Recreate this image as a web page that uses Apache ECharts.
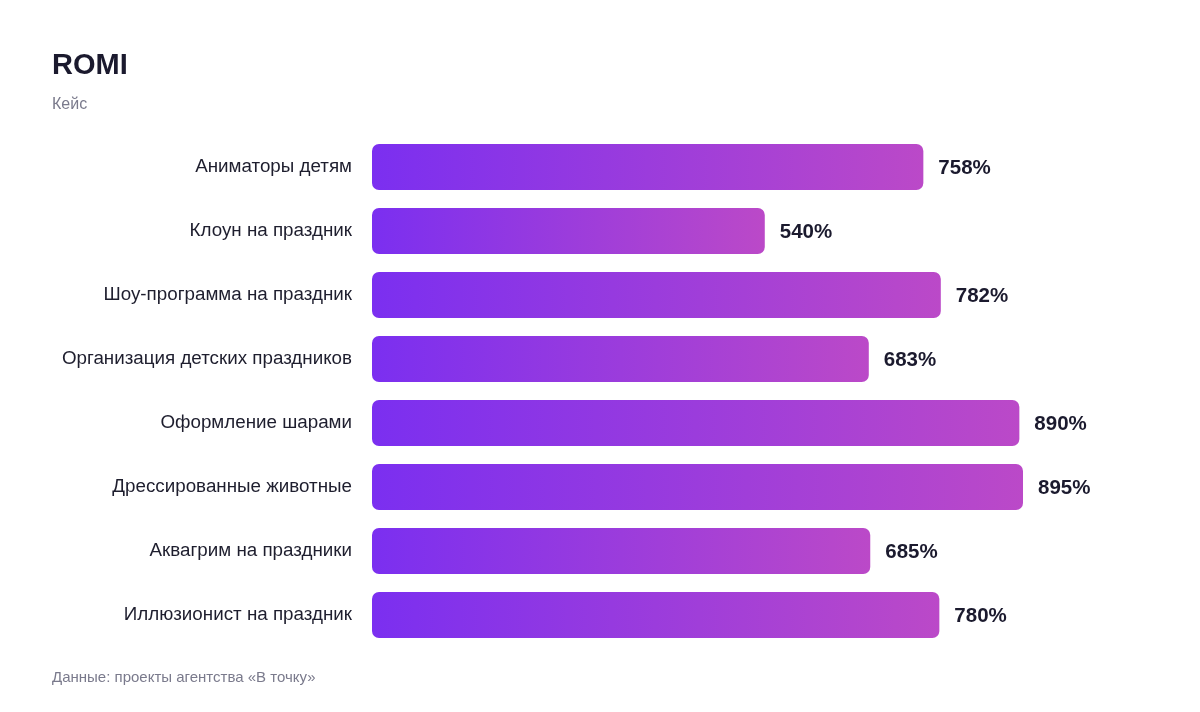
<!DOCTYPE html>
<html lang="ru">
<head>
    <meta charset="UTF-8">
    <title>ROMI</title>
    <style>
        html, body { margin: 0; padding: 0; background: #fff; }
        #chart { width: 1200px; height: 712px; }
    </style>
    <script src="https://cdn.jsdelivr.net/npm/echarts@6/dist/echarts.min.js"></script>
</head>
<body>
<div id="chart"></div>
<script>
// данные
var categories = [
    'Аниматоры детям',
    'Клоун на праздник',
    'Шоу-программа на праздник',
    'Организация детских праздников',
    'Оформление шарами',
    'Дрессированные животные',
    'Аквагрим на праздники',
    'Иллюзионист на праздник'
];
var romi = [758, 540, 782, 683, 890, 895, 685, 780];

var font = '"Liberation Sans", Arial, Helvetica, sans-serif';
var myChart = echarts.init(document.getElementById('chart'));

var option = {
    backgroundColor: '#ffffff',
    textStyle: { fontFamily: font },
    title: [
        {
            text: 'ROMI',
            left: 47, top: 46,
            textStyle: { fontSize: 29, fontWeight: 'bold', color: '#1b1a2e', fontFamily: font }
        },
        {
            text: 'Кейс',
            left: 47, top: 92,
            textStyle: { fontSize: 16, fontWeight: 'normal', color: '#7a7a8c', fontFamily: font }
        },
        {
            text: 'Данные: проекты агентства «В точку»',
            left: 47, top: 665,
            textStyle: { fontSize: 15, fontWeight: 'normal', color: '#7a7a8c', fontFamily: font }
        }
    ],
    grid: { left: 372, right: 177, top: 135, bottom: 65, containLabel: false },
    xAxis: {
        type: 'value',
        min: 0,
        max: 895,
        show: false
    },
    yAxis: {
        type: 'category',
        inverse: true,
        data: categories,
        axisLine: { show: false },
        axisTick: { show: false },
        axisLabel: {
            fontSize: 18.8, color: '#1e1e2e', margin: 20, fontFamily: font,
            padding: [3, 0, 0, 0]
        }
    },
    series: [{
        type: 'bar',
        data: romi,
        barWidth: 46,
        itemStyle: {
            borderRadius: 7,
            color: new echarts.graphic.LinearGradient(0, 0, 1, 0, [
                { offset: 0, color: '#7b2ff0' },
                { offset: 1, color: '#bb49c8' }
            ])
        },
        label: {
            show: true,
            position: 'right',
            distance: 15,
            offset: [0, 1],
            formatter: '{c}%',
            fontSize: 20.5,
            fontWeight: 'bold',
            color: '#1b1a2e',
            fontFamily: font
        },
        animation: false
    }]
};

myChart.setOption(option);
</script>
</body>
</html>
